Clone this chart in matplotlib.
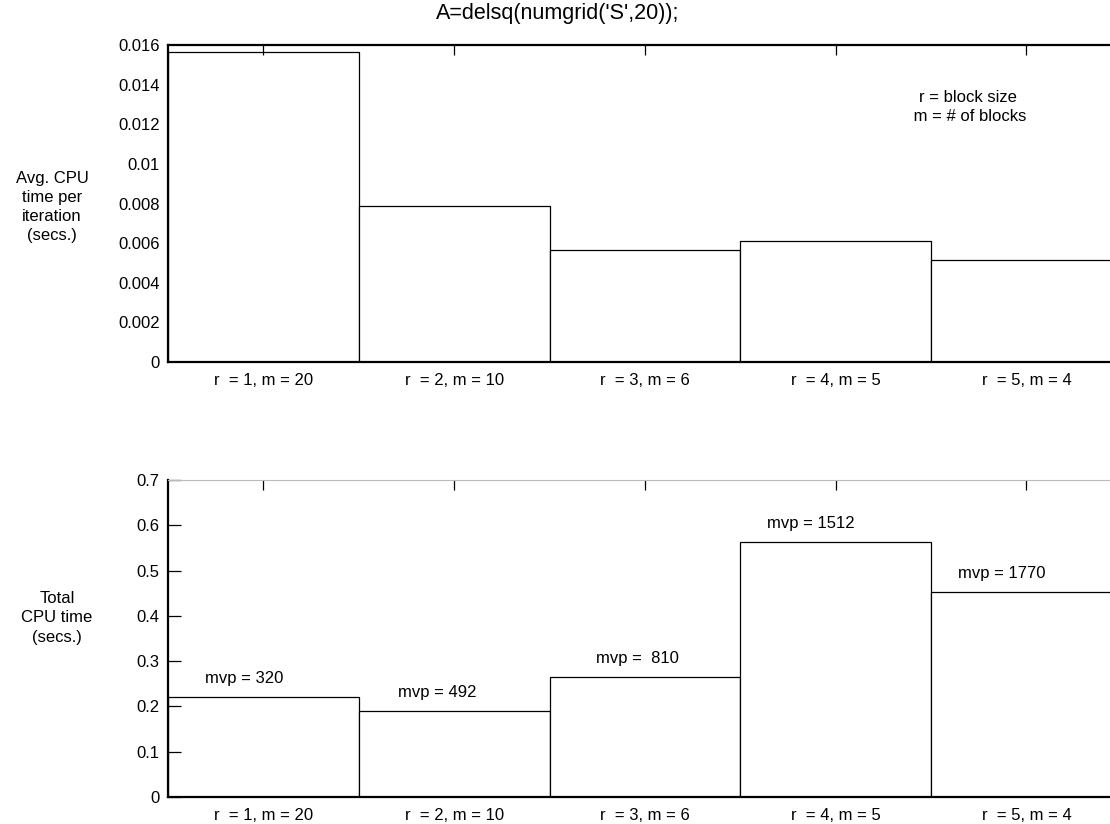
import matplotlib.pyplot as plt

plt.rcParams['font.family'] = ['Liberation Sans', 'DejaVu Sans']
plt.rcParams['font.size'] = 12

# Data
categories = ['r  = 1, m = 20', 'r  = 2, m = 10', 'r  = 3, m = 6', 'r  = 4, m = 5', 'r  = 5, m = 4']
avg_cpu = [0.01565, 0.00787, 0.00565, 0.0061, 0.00515]      # avg CPU time per iteration (secs.)
total_cpu = [0.220, 0.189, 0.264, 0.563, 0.453]             # total CPU time (secs.)
mvp_labels = ['mvp = 320', 'mvp = 492', 'mvp =  810', 'mvp = 1512', 'mvp = 1770']
top_yticks = [0, 0.002, 0.004, 0.006, 0.008, 0.01, 0.012, 0.014, 0.016]
bot_yticks = [0, 0.1, 0.2, 0.3, 0.4, 0.5, 0.6, 0.7]

label_dx = [-0.10, -0.09, -0.04, -0.13, -0.13]   # small shifts of the mvp labels

x = list(range(1, len(categories) + 1))

fig = plt.figure(figsize=(11.1, 8.24), dpi=100)

# axes run slightly past the right edge of the picture, like the original
ax1 = fig.add_axes([168 / 1110, 1 - 362 / 824, 953.75 / 1110, 317 / 824])
ax2 = fig.add_axes([168 / 1110, 1 - 797 / 824, 953.75 / 1110, 317 / 824])

for ax, vals, yt in [(ax1, avg_cpu, top_yticks), (ax2, total_cpu, bot_yticks)]:
    ax.bar(x, vals, width=1.0, color='white', edgecolor='black', linewidth=0.9)
    ax.set_xlim(0.5, 5.5)
    ax.set_ylim(yt[0], yt[-1])
    ax.set_xticks(x)
    ax.set_xticklabels(categories)
    ax.set_yticks(yt)
    ax.set_yticklabels(['%g' % t for t in yt])
    ax.tick_params(axis='x', top=True, bottom=False, labeltop=False, labelbottom=True,
                   direction='in', length=7, width=0.9, pad=8)
    ax.spines['left'].set_linewidth(1.6)
    ax.spines['bottom'].set_linewidth(1.6)

ax1.tick_params(axis='y', length=0, pad=6)
ax1.spines['top'].set_linewidth(1.6)

ax2.tick_params(axis='y', direction='in', length=9, width=0.9, pad=6)
ax2.spines['top'].set_color('#bbbbbb')
ax2.spines['top'].set_linewidth(0.8)

for xi, v, lab, dx in zip(x, total_cpu, mvp_labels, label_dx):
    ax2.annotate(lab, (xi + dx, v), xytext=(0, 13.5), textcoords='offset points',
                 ha='center', va='center')

ax1.text(968 / 1110, 1 - 107 / 824, 'r = block size\n m = # of blocks', transform=fig.transFigure,
         ha='center', va='center', linespacing=1.3)

fig.text(52 / 1110, 1 - 207 / 824, 'Avg. CPU\ntime per\niteration\n(secs.)',
         ha='center', va='center', multialignment='center', linespacing=1.35)
fig.text(57 / 1110, 1 - 618 / 824, 'Total\nCPU time\n(secs.)',
         ha='center', va='center', multialignment='center', linespacing=1.35)

fig.text(558 / 1110, 1 - 14 / 824, "A=delsq(numgrid('S',20));", ha='center', va='center',
         fontsize=15.5)

fig.savefig('out.png', dpi=100)
